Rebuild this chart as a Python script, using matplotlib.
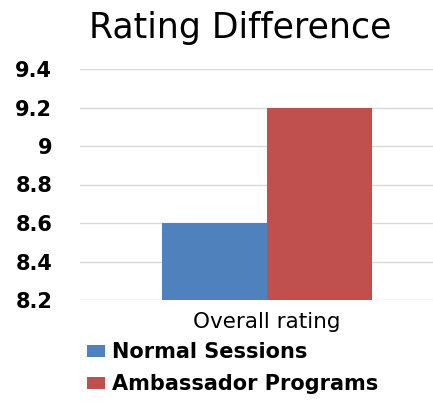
import numpy as np
import matplotlib.pyplot as plt

categories = ['Overall rating']
series_names = ['Normal Sessions', 'Ambassador Programs']
normal_vals = [8.6]
ambassador_vals = [9.2]
yticks = [8.2, 8.4, 8.6, 8.8, 9.0, 9.2, 9.4]
ytick_labels = ['8.2', '8.4', '8.6', '8.8', '9', '9.2', '9.4']

colors = ['#4F81BD', '#C0504D']

fig = plt.figure(figsize=(4.33, 4.17), dpi=100)
ax = fig.add_axes([80 / 433, 117 / 417, 374 / 433, 231 / 417])

x = np.arange(len(categories))
w = 0.28
ax.bar(x - w / 2, normal_vals, w, color=colors[0], label=series_names[0], zorder=3)
ax.bar(x + w / 2, ambassador_vals, w, color=colors[1], label=series_names[1], zorder=3)

ax.set_xlim(-0.5, 0.5)
ax.set_ylim(8.2, 9.4)
ax.set_yticks(yticks)
ax.set_yticklabels(ytick_labels, fontsize=15, fontweight='bold')
ax.set_xticks(x)
ax.set_xticklabels(categories, fontsize=15.5)
ax.tick_params(axis='y', length=0, pad=20)
ax.tick_params(axis='x', length=0, pad=9)
ax.grid(axis='y', color='#d9d9d9', linewidth=1, zorder=0)
for s in ax.spines.values():
    s.set_visible(False)

fig.text(240 / 433, 1 - 28 / 417, 'Rating Difference', fontsize=25,
         ha='center', va='center')

ax.legend(loc='upper left', bbox_to_anchor=(87 / 433, 1 - 342 / 417),
          bbox_transform=fig.transFigure, frameon=False,
          prop={'size': 15, 'weight': 'bold'},
          handlelength=0.85, handleheight=0.5, handletextpad=0.35,
          labelspacing=0.6, borderaxespad=0, borderpad=0)

fig.savefig('out.png', dpi=100)
